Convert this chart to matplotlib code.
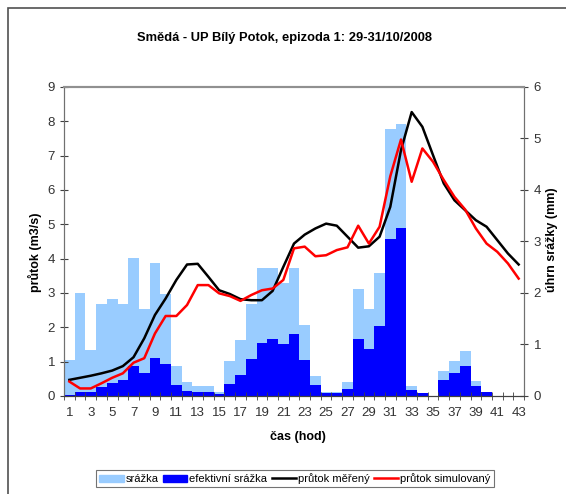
import matplotlib.pyplot as plt
import matplotlib.patches as mpatches
import matplotlib.lines as mlines
import numpy as np

plt.rcParams['font.family'] = ['Liberation Sans', 'DejaVu Sans']

# hodiny epizody
hod = list(range(1, 44))

# srážka (mm)
srazka = [0.7, 2.0, 0.9, 1.78, 1.88, 1.78, 2.67, 1.68, 2.58, 1.99,
          0.58, 0.28, 0.19, 0.19, 0.08, 0.68, 1.09, 1.78, 2.48, 2.48,
          2.19, 2.48, 1.38, 0.39, 0.08, 0.08, 0.28, 2.08, 1.68, 2.38,
          5.18, 5.29, 0.19, 0.06, 0.0, 0.49, 0.68, 0.88, 0.29, 0.08,
          0.0, 0.0, 0.0]

# efektivní srážka (mm)
ef_srazka = [0.02, 0.07, 0.07, 0.18, 0.26, 0.31, 0.59, 0.44, 0.74, 0.63,
             0.21, 0.1, 0.07, 0.07, 0.04, 0.23, 0.41, 0.71, 1.02, 1.11,
             1.01, 1.2, 0.7, 0.21, 0.05, 0.05, 0.13, 1.1, 0.92, 1.35,
             3.05, 3.27, 0.12, 0.05, 0.0, 0.31, 0.44, 0.58, 0.19, 0.07,
             0.0, 0.0, 0.0]

# průtok měřený (m3/s)
q_mer = [0.47, 0.53, 0.59, 0.66, 0.74, 0.87, 1.13, 1.68, 2.36, 2.84,
         3.38, 3.83, 3.85, 3.47, 3.08, 2.97, 2.82, 2.79, 2.79, 3.06,
         3.76, 4.44, 4.70, 4.88, 5.02, 4.96, 4.64, 4.32, 4.36, 4.64,
         5.51, 7.16, 8.27, 7.84, 7.01, 6.19, 5.70, 5.41, 5.12, 4.93,
         4.54, 4.15, 3.83]

# průtok simulovaný (m3/s)
q_sim = [0.42, 0.22, 0.22, 0.37, 0.53, 0.66, 0.97, 1.10, 1.82, 2.33,
         2.33, 2.65, 3.23, 3.23, 2.99, 2.91, 2.77, 2.94, 3.08, 3.13,
         3.38, 4.30, 4.35, 4.07, 4.10, 4.25, 4.33, 4.96, 4.44, 4.93,
         6.40, 7.47, 6.24, 7.21, 6.82, 6.29, 5.80, 5.43, 4.88, 4.44,
         4.20, 3.86, 3.42]

fig = plt.figure(figsize=(5.66, 4.94), dpi=100)
ax = fig.add_axes([0.1131, 0.1984, 0.8127, 0.6255])
ax2 = ax.twinx()

# sloupce srážek na pravé ose
ax2.bar(hod, srazka, width=1.0, color='#99ccff', zorder=1)
ax2.bar(hod, ef_srazka, width=1.0, color='#0000ff', zorder=2)
ax2.set_ylim(0, 6)
ax2.set_yticks(range(0, 7))

# průtoky na levé ose, nad sloupci
ax.set_zorder(ax2.get_zorder() + 1)
ax.patch.set_visible(False)
ax.plot(hod, q_mer, color='black', lw=1.8)
ax.plot(hod, q_sim, color='red', lw=1.8)
ax.set_ylim(0, 9)
ax.set_yticks(range(0, 10))
ax.set_xlim(0.5, 43.5)
ax.set_xticks(hod[::2])
ax.set_xticks(np.arange(0.5, 44, 1), minor=True)
ax.tick_params(axis='x', which='major', length=0, pad=8)
ax.tick_params(axis='x', which='minor', direction='inout', length=6, color='#404040')
ax.tick_params(axis='y', direction='inout', length=6, color='#404040')
ax2.tick_params(axis='y', direction='inout', length=6, color='#404040', pad=4)
for a in (ax, ax2):
    a.tick_params(labelsize=9.5, labelcolor='#333333')
    for s in a.spines.values():
        s.set_color('#707070')
    a.spines['top'].set_color('#909090')
    a.spines['top'].set_linewidth(1.5)
    a.spines['bottom'].set_color('#404040')

fig.text(0.502, 0.923, 'Smědá - UP Bílý Potok, epizoda 1: 29-31/10/2008',
         ha='center', va='center', fontsize=9.3, fontweight='bold')
fig.text(0.527, 0.115, 'čas (hod)', ha='center', va='center', fontsize=9, fontweight='bold')
fig.text(0.062, 0.49, 'průtok (m3/s)', ha='center', va='center', rotation=90,
         fontsize=9, fontweight='bold')
fig.text(0.975, 0.514, 'úhrn srážky (mm)', ha='center', va='center', rotation=90,
         fontsize=9, fontweight='bold')

# rámeček grafu (jen levá a horní hrana jsou v záběru)
fig.patches.append(mpatches.Rectangle((8 / 566, -0.1), 1.2, 1.1 - 8 / 494,
                                      transform=fig.transFigure, fill=False,
                                      edgecolor='#505050', lw=1.2))

handles = [mpatches.Patch(color='#99ccff', label='srážka'),
           mpatches.Patch(color='#0000ff', label='efektivní srážka'),
           mlines.Line2D([], [], color='black', lw=1.8, label='průtok měřený'),
           mlines.Line2D([], [], color='red', lw=1.8, label='průtok simulovaný')]
leg = fig.legend(handles=handles, loc='center', bbox_to_anchor=(0.521, 0.031), ncol=4,
                 fontsize=8, frameon=True, fancybox=False, edgecolor='#505050',
                 handlelength=2.2, handleheight=0.55, handletextpad=0.15,
                 columnspacing=0.4, borderpad=0.3, borderaxespad=0)
leg.get_frame().set_linewidth(0.8)

fig.savefig('out.png', dpi=100)
